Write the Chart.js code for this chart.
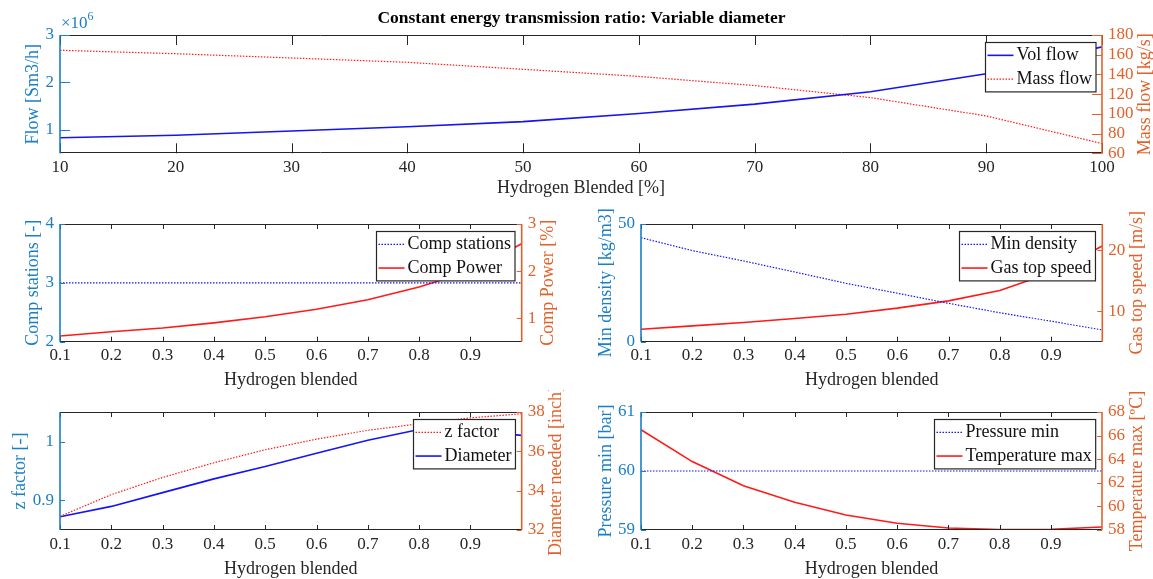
<!DOCTYPE html>
<html>
<head>
<meta charset="utf-8">
<title>Constant energy transmission ratio: Variable diameter</title>
<script src="https://cdn.jsdelivr.net/npm/chart.js@4"></script>
<style>
  body { margin: 0; background: #fff; }
  #fig { position: relative; width: 1153px; height: 579px; overflow: hidden; background: #fff; }
  .panel { position: absolute; }
</style>
</head>
<body>
<div id="fig">
  <div class="panel" style="left:0;top:0;width:1153px;height:199px"><canvas id="flowChart"></canvas></div>
  <div class="panel" style="left:0;top:200px;width:580px;height:191px"><canvas id="compChart"></canvas></div>
  <div class="panel" style="left:580px;top:200px;width:573px;height:191px"><canvas id="speedChart"></canvas></div>
  <div class="panel" style="left:0;top:390px;width:580px;height:190px"><canvas id="zChart"></canvas></div>
  <div class="panel" style="left:580px;top:390px;width:573px;height:190px"><canvas id="tempChart"></canvas></div>
</div>
<script>
// hydrogen share: percent in the top plot, fraction in the small ones
const blendPct = [10, 20, 30, 40, 50, 60, 70, 80, 90, 100];
const blendFrac = [0.1, 0.2, 0.3, 0.4, 0.5, 0.6, 0.7, 0.8, 0.9, 1.0];

const volFlow = [830000, 880000, 970000, 1060000, 1170000, 1340000, 1540000, 1800000, 2180000, 2750000]; // Sm3/h
const massFlow = [164.5, 161, 156.7, 152.3, 145.2, 138, 128.7, 116.5, 97.9, 69.9]; // kg/s
const compStations = [3, 3, 3, 3, 3, 3, 3, 3, 3, 3];
const compPower = [0.62, 0.71, 0.79, 0.9, 1.03, 1.19, 1.39, 1.66, 2.0, 2.58]; // %
const minDensity = [44.2, 38.7, 34.3, 29.6, 24.8, 20.6, 16.3, 12.3, 8.7, 5.0]; // kg/m3
const gasTopSpeed = [7.05, 7.6, 8.15, 8.8, 9.5, 10.5, 11.7, 13.4, 16.3, 20.7]; // m/s
const zFactor = [0.873, 0.91, 0.939, 0.964, 0.986, 1.004, 1.019, 1.03, 1.04, 1.047];
const diameterNeeded = [32.67, 33.2, 33.9, 34.6, 35.23, 35.9, 36.56, 37.11, 37.05, 36.81]; // inch
const pressureMin = [60, 60, 60, 60, 60, 60, 60, 60, 60, 60]; // bar
const temperatureMax = [66.5, 63.8, 61.75, 60.35, 59.27, 58.57, 58.17, 58.03, 58.06, 58.25]; // degC

// tick values
const pctTicks = [10, 20, 30, 40, 50, 60, 70, 80, 90, 100];
const fracTicks = [0.1, 0.2, 0.3, 0.4, 0.5, 0.6, 0.7, 0.8, 0.9];
const flowTicks = [1000000, 2000000, 3000000];
const massFlowTicks = [60, 80, 100, 120, 140, 160, 180];
const stationTicks = [2, 3, 4];
const powerTicks = [1, 2, 3];
const densityTicks = [0, 50];
const speedTicks = [10, 20];
const zTicks = [0.9, 1];
const diameterTicks = [32, 34, 36, 38];
const pressureTicks = [59, 60, 61];
const tempTicks = [58, 60, 62, 64, 66, 68];

const SERIF = "'Liberation Serif', 'Times New Roman', serif";
const DARK = '#262626';
const AX_BLUE = '#1a7fc6';
const AX_ORANGE = '#e2612b';
const LINE_BLUE = '#1414f5';
const LINE_RED = '#ff1a1a';

Chart.defaults.font.family = SERIF;
Chart.defaults.color = DARK;

const xy = (xs, ys) => xs.map((x, i) => ({ x, y: ys[i] }));
const fixedTicks = values => scale => { scale.ticks = values.map(value => ({ value })); };

function solid(label, color, xs, ys, axis) {
  return { label, data: xy(xs, ys), yAxisID: axis, borderColor: color, borderWidth: 1.6, borderDash: [] };
}
function dotted(label, color, xs, ys, axis) {
  return { label, data: xy(xs, ys), yAxisID: axis, borderColor: color, borderWidth: 1.2, borderDash: [1.5, 1.5] };
}

// box, inward ticks, rotated y labels and legend drawn the way MATLAB does it
const matlabAxes = {
  id: 'matlabAxes',
  afterDraw(chart, args, opts) {
    const { ctx, chartArea: a, scales } = chart;
    const len = opts.tickLength;
    ctx.save();

    // x ticks on bottom and top edges
    ctx.strokeStyle = DARK;
    ctx.lineWidth = 1;
    ctx.beginPath();
    scales.x.ticks.forEach(t => {
      const px = Math.round(scales.x.getPixelForValue(t.value)) + 0.5;
      ctx.moveTo(px, a.bottom); ctx.lineTo(px, a.bottom - len);
      ctx.moveTo(px, a.top); ctx.lineTo(px, a.top + len);
    });
    ctx.moveTo(a.left, Math.round(a.top) + 0.5); ctx.lineTo(a.right, Math.round(a.top) + 0.5);
    ctx.moveTo(a.left, Math.round(a.bottom) - 0.5); ctx.lineTo(a.right, Math.round(a.bottom) - 0.5);
    ctx.stroke();

    // left and right y axes in their own colours
    [[scales.y, a.left, 1], [scales.y1, a.right, -1]].forEach(([scale, edge, dir]) => {
      const color = scale.options.ticks.color;
      ctx.strokeStyle = color;
      ctx.lineWidth = 1.6;
      ctx.beginPath();
      ctx.moveTo(edge, a.top); ctx.lineTo(edge, a.bottom);
      ctx.stroke();
      ctx.lineWidth = 1;
      ctx.beginPath();
      scale.ticks.forEach(t => {
        const py = Math.round(scale.getPixelForValue(t.value)) + 0.5;
        ctx.moveTo(edge, py); ctx.lineTo(edge + dir * len, py);
      });
      ctx.stroke();

      // axis title, reading bottom to top on both sides
      ctx.font = `17px ${SERIF}`;
      const w = Math.max(...scale.ticks.map(t => ctx.measureText(String(t.label)).width));
      const cx = dir > 0 ? a.left - 6 - w - 12 : a.right + 6 + w + 12;
      ctx.save();
      ctx.translate(cx, (a.top + a.bottom) / 2);
      ctx.rotate(-Math.PI / 2);
      ctx.font = `18px ${SERIF}`;
      ctx.fillStyle = color;
      ctx.textAlign = 'center';
      ctx.textBaseline = 'middle';
      ctx.fillText(scale.options.title.text, 0, 0);
      ctx.restore();
    });

    // x10^6 multiplier above the left axis
    if (opts.exponent) {
      ctx.fillStyle = AX_BLUE;
      ctx.textAlign = 'left';
      ctx.textBaseline = 'alphabetic';
      ctx.font = `17px ${SERIF}`;
      const base = '\u00d710';
      ctx.fillText(base, a.left + 1, a.top - 7);
      const bw = ctx.measureText(base).width;
      ctx.font = `12px ${SERIF}`;
      ctx.fillText(String(opts.exponent), a.left + 1 + bw, a.top - 15);
    }

    // legend box in the north-east corner
    const sets = chart.data.datasets;
    ctx.font = `18px ${SERIF}`;
    const textW = Math.max(...sets.map(d => ctx.measureText(d.label).width));
    const rowH = 23.7;
    const boxW = 2 + 26 + 3 + textW + 4;
    const boxH = rowH * sets.length + 2;
    const bx = Math.round(a.right - 7 - boxW) + 0.5;
    const by = Math.round(a.top + 7) + 0.5;
    ctx.fillStyle = '#fff';
    ctx.fillRect(bx, by, boxW, boxH);
    ctx.strokeStyle = DARK;
    ctx.lineWidth = 1.2;
    ctx.strokeRect(bx, by, boxW, boxH);
    sets.forEach((d, i) => {
      const cy = by + 1 + rowH * (i + 0.5);
      ctx.strokeStyle = d.borderColor;
      ctx.lineWidth = d.borderWidth;
      ctx.setLineDash(d.borderDash);
      ctx.beginPath();
      ctx.moveTo(bx + 2, cy); ctx.lineTo(bx + 28, cy);
      ctx.stroke();
      ctx.setLineDash([]);
      ctx.fillStyle = '#111';
      ctx.textAlign = 'left';
      ctx.textBaseline = 'middle';
      ctx.fillText(d.label, bx + 31, cy);
    });
    ctx.restore();
  }
};

function yAxis(position, p, color) {
  return {
    type: 'linear',
    position,
    min: p.min,
    max: p.max,
    afterBuildTicks: fixedTicks(p.ticks),
    afterFit: s => { s.width = p.width; },
    grid: { display: false, drawTicks: false },
    border: { display: false },
    title: { display: false, text: p.title },
    ticks: { color, padding: 6, font: { size: 17 }, autoSkip: false, callback: p.fmt || (v => String(v)) }
  };
}

function makePanel(id, p) {
  return new Chart(document.getElementById(id), {
    type: 'line',
    data: { datasets: p.datasets },
    options: {
      responsive: true,
      maintainAspectRatio: false,
      animation: false,
      layout: { padding: { top: p.padTop, left: p.padLeft || 0, right: 0, bottom: 0 } },
      elements: { point: { radius: 0 }, line: { tension: 0, fill: false } },
      plugins: {
        legend: { display: false },
        tooltip: { enabled: false },
        title: p.title ? {
          display: true,
          text: p.title,
          color: '#000',
          font: { size: 17.5, weight: 'bold' },
          padding: { top: 8, bottom: 6 }
        } : { display: false },
        matlabAxes: { tickLength: p.tickLength, exponent: p.exponent }
      },
      scales: {
        x: {
          type: 'linear',
          position: 'bottom',
          min: p.x.min,
          max: p.x.max,
          afterBuildTicks: fixedTicks(p.x.ticks),
          afterFit: s => { s.height = p.x.height; },
          grid: { display: false, drawTicks: false },
          border: { display: false },
          ticks: { color: DARK, padding: 4, font: { size: 17 }, autoSkip: false, maxRotation: 0, callback: v => String(v) },
          title: { display: true, text: p.x.title, color: DARK, font: { size: 18 }, padding: 0 }
        },
        y: yAxis('left', p.left, AX_BLUE),
        y1: yAxis('right', p.right, AX_ORANGE)
      }
    },
    plugins: [matlabAxes]
  });
}

makePanel('flowChart', {
  title: 'Constant energy transmission ratio: Variable diameter',
  padTop: 0, padLeft: 10, tickLength: 10, exponent: 6,
  x: { min: 10, max: 100, ticks: pctTicks, height: 45.7, title: 'Hydrogen Blended [%]' },
  left: { min: 500000, max: 3000000, ticks: flowTicks, width: 50, title: 'Flow [Sm3/h]', fmt: v => String(v / 1000000) },
  right: { min: 60, max: 180, ticks: massFlowTicks, width: 51, title: 'Mass flow [kg/s]' },
  datasets: [
    solid('Vol flow', LINE_BLUE, blendPct, volFlow, 'y'),
    dotted('Mass flow', LINE_RED, blendPct, massFlow, 'y1')
  ]
});

makePanel('compChart', {
  padTop: 24, tickLength: 5,
  x: { min: 0.1, max: 1.0, ticks: fracTicks, height: 49.3, title: 'Hydrogen blended' },
  left: { min: 2, max: 4, ticks: stationTicks, width: 60, title: 'Comp stations [-]' },
  right: { min: 0.5, max: 3, ticks: powerTicks, width: 58.3, title: 'Comp Power [%]' },
  datasets: [
    dotted('Comp stations', LINE_BLUE, blendFrac, compStations, 'y'),
    solid('Comp Power', LINE_RED, blendFrac, compPower, 'y1')
  ]
});

makePanel('speedChart', {
  padTop: 24, tickLength: 5,
  x: { min: 0.1, max: 1.0, ticks: fracTicks, height: 49.3, title: 'Hydrogen blended' },
  left: { min: 0, max: 50, ticks: densityTicks, width: 61, title: 'Min density [kg/m3]' },
  right: { min: 5, max: 24.3, ticks: speedTicks, width: 50.7, title: 'Gas top speed [m/s]' },
  datasets: [
    dotted('Min density', LINE_BLUE, blendFrac, minDensity, 'y'),
    solid('Gas top speed', LINE_RED, blendFrac, gasTopSpeed, 'y1')
  ]
});

makePanel('zChart', {
  padTop: 22, tickLength: 5,
  x: { min: 0.1, max: 1.0, ticks: fracTicks, height: 50, title: 'Hydrogen blended' },
  left: { min: 0.85, max: 1.05, ticks: zTicks, width: 60, title: 'z factor [-]' },
  right: { min: 32, max: 38, ticks: diameterTicks, width: 58.3, title: 'Diameter needed [inch]' },
  datasets: [
    dotted('z factor', LINE_RED, blendFrac, zFactor, 'y'),
    solid('Diameter', LINE_BLUE, blendFrac, diameterNeeded, 'y1')
  ]
});

makePanel('tempChart', {
  padTop: 22, tickLength: 5,
  x: { min: 0.1, max: 1.0, ticks: fracTicks, height: 50, title: 'Hydrogen blended' },
  left: { min: 59, max: 61, ticks: pressureTicks, width: 61, title: 'Pressure min [bar]' },
  right: { min: 58, max: 68, ticks: tempTicks, width: 51, title: 'Temperature max [\u00baC]' },
  datasets: [
    dotted('Pressure min', LINE_BLUE, blendFrac, pressureMin, 'y'),
    solid('Temperature max', LINE_RED, blendFrac, temperatureMax, 'y1')
  ]
});
</script>
</body>
</html>
